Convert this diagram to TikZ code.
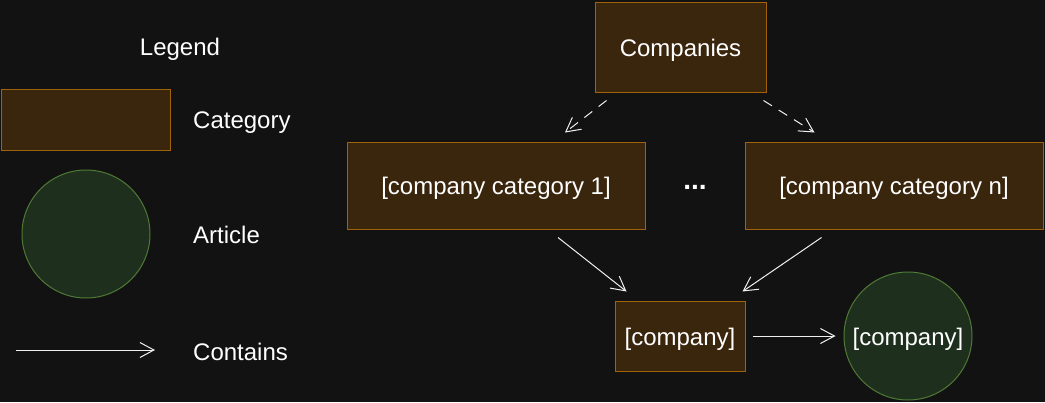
\documentclass[tikz,border=0pt]{standalone}
\usepackage{fontspec}
\setmainfont{Liberation Sans}
\usetikzlibrary{arrows.meta,calc}
\definecolor{bgcol}{HTML}{121212}
\definecolor{catfill}{HTML}{3A250D}
\definecolor{catline}{HTML}{A0620A}
\definecolor{artfill}{HTML}{1F2F1E}
\definecolor{artline}{HTML}{4E7A35}
\definecolor{linecol}{HTML}{F0F0F0}

\tikzstyle{category}=[draw=catline,fill=catfill,line width=1pt,inner sep=0pt,text=white,text height=18.5pt,text depth=0pt]
\tikzstyle{article}=[circle,draw=artline,fill=artfill,line width=1pt,inner sep=0pt,minimum size=128pt,text=white,text height=18.5pt,text depth=0pt]
\tikzstyle{label}=[text=white,inner sep=0pt,anchor=west,text height=18.5pt,text depth=0pt]
\tikzstyle{contains}=[draw=linecol,line width=1pt,-{Straight Barb[length=14pt,width=15pt,line width=1pt]}]

\begin{document}
\begin{tikzpicture}[x=1pt,y=-1pt,font=\fontsize{24}{28}\selectfont]
		\fill[bgcol] (0,0) rectangle (1045,402);
		% legend
		\node[label,anchor=center] (legend) at (180,46) {Legend};
		\node[category,minimum width=169pt,minimum height=61pt] (legcat) at (86,119.5) {};
		\node[article] (legart) at (86,234) {};
		\coordinate (legfrom) at (16,350);
		\coordinate (legto) at (155,350);
		\draw[contains] (legfrom) -- (legto);
		\node[label] (lcat) at (193,119) {Category};
		\node[label] (lart) at (193,234) {Article};
		\node[label] (lcon) at (193,351) {Contains};
		% diagram
		\node[category,minimum width=171pt,minimum height=90pt] (companies) at (680.5,47) {Companies};
		\node[category,minimum width=298pt,minimum height=87pt] (cat1) at (496,185.5) {[company category 1]};
		\node[category,minimum width=298pt,minimum height=87pt] (catn) at (894,185.5) {[company category n]};
		\node[text=white,inner sep=0pt,font=\fontsize{28}{30}\selectfont\bfseries] (dots) at (695,187.5) {...};
		\node[category,minimum width=130pt,minimum height=70pt] (company) at (680,336) {[company]};
		\node[article] (article) at (908,336) {[company]};
		\draw[contains,dash pattern=on 10pt off 8pt] ($(companies.south west)+(12,8)$) -- ($(cat1.north)+(69,-9)$);
		\draw[contains,dash pattern=on 10pt off 8pt] ($(companies.south east)+(-3,8)$) -- ($(catn.north west)+(70,-9)$);
		\draw[contains] ($(cat1.south)+(62,8)$) -- ($(company.north west)+(12,-9)$);
		\draw[contains] ($(catn.south west)+(77,8)$) -- ($(company.north east)+(-3,-9)$);
		\draw[contains] ($(company.east)+(7,0)$) -- ($(article.west)+(-8,0)$);
\end{tikzpicture}
\end{document}
